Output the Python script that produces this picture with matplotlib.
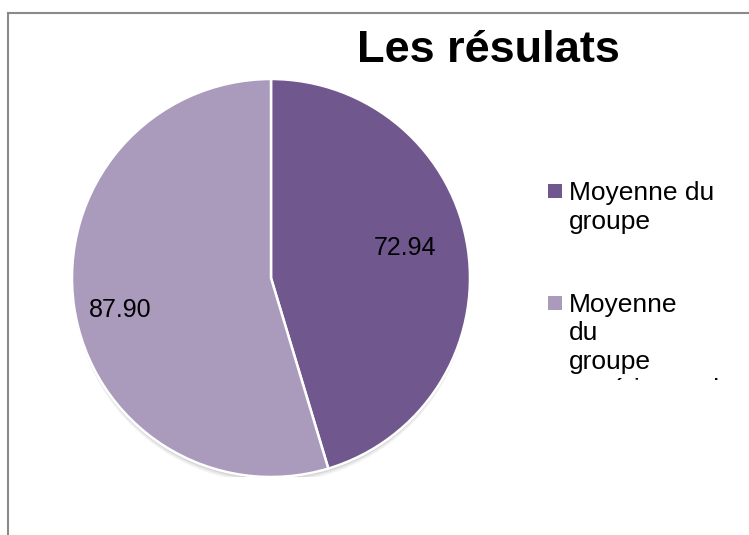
import matplotlib
matplotlib.use("Agg")
import matplotlib.pyplot as plt
from matplotlib.patches import Rectangle, Circle
from matplotlib.lines import Line2D

# ---- data ----
categories = ["Moyenne du groupe", "Moyenne du groupe expérimental"]
values = [72.94, 87.90]
legend_lines = [["Moyenne du", "groupe"], ["Moyenne", "du", "groupe", "expérimental"]]
colors = ["#70588f", "#aa9bbd"]
title = "Les résulats"

plt.rcParams['font.family'] = ['Liberation Sans', 'DejaVu Sans']

W, H = 749, 535
fig = plt.figure(figsize=(W / 100, H / 100), dpi=100)
fig.patch.set_facecolor("white")

def fx(x):
    return x / W

def fy(y):
    return 1 - y / H

# outer frame (top and left edges visible)
fig.add_artist(Line2D([fx(8), fx(749)], [fy(13), fy(13)], color="#8a8a8a", lw=1.5))
fig.add_artist(Line2D([fx(8), fx(8)], [fy(13), fy(535)], color="#8a8a8a", lw=1.5))

# pie axes
cx, cy, r = 271, 278, 199
ax = fig.add_axes([fx(cx - r), fy(cy + r), 2 * r / W, 2 * r / H])
ax.set_xlim(-1.0, 1.0)
ax.set_ylim(-1.0, 1.0)
ax.set_aspect("equal")
ax.axis("off")

# soft shadow (mostly below the pie)
for off, a in [(0.035, 0.04), (0.027, 0.05), (0.019, 0.07), (0.012, 0.09)]:
    ax.add_patch(Circle((0.0, -off), 0.995, color="black", alpha=a, lw=0, zorder=0))

total = sum(values)
wedges, texts, autotexts = ax.pie(
    values, colors=colors, startangle=90, counterclock=False, radius=1.0,
    autopct=lambda p: f"{p * total / 100:.2f}",
    wedgeprops=dict(edgecolor="white", linewidth=1.8),
    textprops=dict(fontsize=18, color="black"),
    frame=False,
)
for w in wedges:
    w.set_zorder(2)
ax.set_xlim(-1.0, 1.0)
ax.set_ylim(-1.0, 1.0)
label_pos = [(0.673, 0.151), (-0.759, -0.161)]
for t, p in zip(autotexts, label_pos):
    t.set_position(p)
    t.set_ha("center")
    t.set_va("center")
    t.set_zorder(5)

# title
fig.text(fx(488), fy(62), title, ha="center", va="baseline", fontsize=32.5, fontweight="bold")

# legend (manual, wrapped labels)
sq = 14
item_baselines = [200, 312]
line_step = 28.5
for lines, col, b in zip(legend_lines, colors, item_baselines):
    fig.add_artist(Rectangle((fx(548), fy(b - 2)), sq / W, sq / H, facecolor=col,
                             edgecolor="none", zorder=3))
    for k, ln in enumerate(lines):
        fig.text(fx(569), fy(b + k * line_step), ln, ha="left", va="baseline",
                 fontsize=19, zorder=3)

# clipping of the overflowing legend text
fig.add_artist(Rectangle((fx(540), fy(420)), 200 / W, (420 - 380) / H, facecolor="white",
                         edgecolor="none", zorder=10))

fig.savefig("out.png", dpi=100, facecolor="white")
